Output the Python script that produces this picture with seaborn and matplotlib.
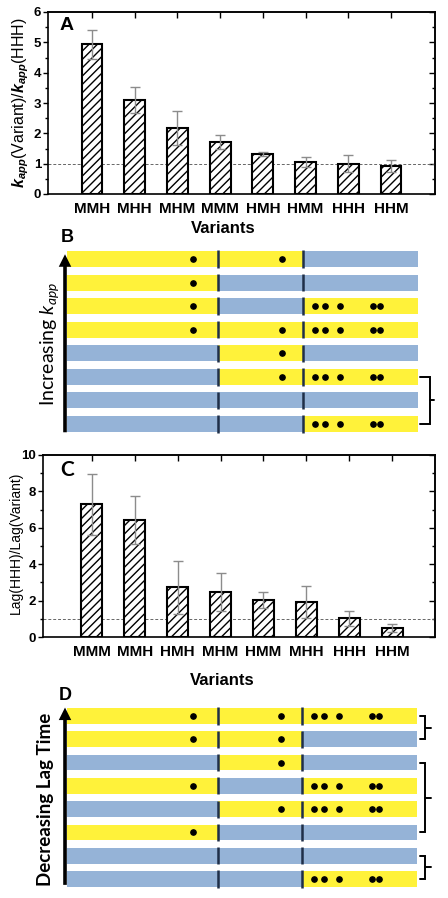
import numpy as np
import pandas as pd
import matplotlib
matplotlib.use("Agg")
import matplotlib.pyplot as plt
import seaborn as sns
from matplotlib.ticker import MultipleLocator

sns.set_theme(style="white")
plt.rcParams["font.family"] = ["Liberation Sans", "DejaVu Sans"]
plt.rcParams.update({
    "mathtext.fontset": "custom",
    "mathtext.rm": "Liberation Sans",
    "mathtext.it": "Lato:italic",
    "mathtext.bf": "Liberation Sans:bold",
    "mathtext.bfit": "Liberation Sans:bold:italic",
    "hatch.linewidth": 1.0,
})

# ---------------- data ----------------
kapp_variants = ["MMH", "MHH", "MHM", "MMM", "HMH", "HMM", "HHH", "HHM"]
kapp_ratio = [4.93, 3.10, 2.18, 1.73, 1.32, 1.05, 1.00, 0.93]
kapp_err = [0.48, 0.42, 0.55, 0.23, 0.08, 0.16, 0.28, 0.20]

lag_variants = ["MMM", "MMH", "HMH", "MHM", "HMM", "MHH", "HHH", "HHM"]
lag_ratio = [7.30, 6.42, 2.72, 2.48, 2.03, 1.90, 1.02, 0.50]
lag_err = [1.68, 1.30, 1.45, 1.04, 0.44, 0.88, 0.42, 0.22]

segment_edges = [0, 151, 236, 351]
segment_dots = [[126], [215], [248, 258, 273, 306, 313]]
kapp_groups = [(5, 7)]
lag_groups = [(0, 1), (2, 5), (6, 7)]

YEL = "#FFF23A"
BLU = "#95B3D7"
DIV = "#1F2F48"

W, H = 448, 898
fig = plt.figure(figsize=(W / 100, H / 100), dpi=100)


def px(l, t, r, b):
    return [l / W, 1 - b / H, (r - l) / W, (b - t) / H]


def bar_panel(ax, cats, vals, errs, ymax, major, minor, xlim, ylab, ylab_xy,
              xlab_xy, letter, letter_xy, letter_kw):
    df = pd.DataFrame({"Variant": cats, "ratio": vals})
    sns.barplot(data=df, x="Variant", y="ratio", order=cats, color="white",
                edgecolor="black", linewidth=1.5, width=0.49, hatch="////",
                errorbar=None, saturation=1, ax=ax)
    ax.errorbar(np.arange(len(cats)), vals, yerr=errs, fmt="none",
                ecolor="#8c8c8c", elinewidth=1.0, capsize=3.5, capthick=1.0,
                zorder=4)
    ax.axhline(1, color="#666666", lw=0.7, ls=(0, (3, 2)), zorder=0.5)
    ax.set_xlim(*xlim)
    ax.set_ylim(0, ymax)
    ax.yaxis.set_major_locator(MultipleLocator(major))
    ax.yaxis.set_minor_locator(MultipleLocator(minor))
    ax.tick_params(axis="y", which="both", direction="out", left=True,
                   right=False, color="black", width=1.0)
    ax.tick_params(axis="y", which="major", length=3.5, pad=1.5, labelsize=9.5)
    ax.tick_params(axis="y", which="minor", length=2)
    ax.tick_params(axis="x", bottom=False, length=0, pad=6, labelsize=11)
    for lbl in ax.get_xticklabels() + ax.get_yticklabels():
        lbl.set_fontweight("bold")
        lbl.set_color("black")
    for sp in ax.spines.values():
        sp.set_color("black")
        sp.set_linewidth(1.2)
    secy = ax.secondary_yaxis("right")
    secy.yaxis.set_major_locator(MultipleLocator(major))
    secy.yaxis.set_minor_locator(MultipleLocator(minor))
    secy.tick_params(which="both", direction="in", labelright=False,
                     color="black", width=1.0)
    secy.tick_params(which="major", length=4)
    secy.tick_params(which="minor", length=2.5)
    secy.spines["right"].set_linewidth(1.2)
    secx = ax.secondary_xaxis("top")
    secx.set_xticks(np.arange(len(cats)))
    secx.tick_params(direction="in", labeltop=False, length=4.5,
                     color="black", width=1.0)
    secx.spines["top"].set_linewidth(1.2)
    ax.set_ylabel(ylab, fontsize=ylab_xy[2], color="black")
    ax.yaxis.set_label_coords(ylab_xy[0], ylab_xy[1])
    ax.set_xlabel("Variants", fontsize=12, fontweight="bold", color="black")
    ax.xaxis.set_label_coords(*xlab_xy)
    ax.text(letter_xy[0], letter_xy[1], letter, transform=ax.transAxes,
            ha="center", va="center", color="black", **letter_kw)


def schematic(ax, variants, groups, label, label_xy, label_kw, arrow_y,
              brace_off):
    n = len(variants)
    for i, v in enumerate(variants):
        for s, state in enumerate(v):
            left = segment_edges[s]
            width = segment_edges[s + 1] - left
            ax.barh(i, width, left=left, height=0.68,
                    color=YEL if state == "M" else BLU, linewidth=0)
            if state == "M":
                ax.plot(segment_dots[s], [i] * len(segment_dots[s]), "o",
                        color="black", ms=3.8, zorder=3)
        ax.vlines(segment_edges[1:3], i - 0.37, i + 0.37, color=DIV, lw=1.8,
                  zorder=3)
    end = segment_edges[-1]
    h0, v0, n0 = brace_off
    for a, b in groups:
        ax.plot([end + h0, end + v0, end + v0, end + h0], [a, a, b, b],
                color="black", lw=1.4, clip_on=False, solid_joinstyle="miter")
        ax.plot([end + v0, end + n0], [(a + b) / 2] * 2, color="black",
                lw=1.4, clip_on=False)
    ax.annotate("", xy=(-2, arrow_y[0]), xytext=(-2, arrow_y[1]),
                xycoords="data", annotation_clip=False,
                arrowprops=dict(arrowstyle="simple,head_length=0.9,head_width=0.9,tail_width=0.26",
                                mutation_scale=10, color="black", lw=0,
                                shrinkA=0, shrinkB=0))
    ax.text(label_xy[0], label_xy[1], label, rotation=90, ha="center",
            va="center", color="black", **label_kw)
    ax.set_xlim(0, end)
    ax.set_ylim(n - 0.5, -0.5)
    ax.axis("off")


axA = fig.add_axes(px(48, 12, 435, 194))
axB = fig.add_axes(px(67, 247.2, 418, 435.8))
axC = fig.add_axes(px(43, 455, 435, 637))
axD = fig.add_axes(px(67, 704.3, 417, 890.7))

bar_panel(axA, kapp_variants, kapp_ratio, kapp_err, 6, 1, 0.5, (-1.03, 8.03),
          r"$\mathbfit{k}_{\mathbfit{app}}$(Variant)/$\mathbfit{k}_{\mathbfit{app}}$(HHH)",
          (-0.045, 0.5, 11.5), (0.452, -0.148), "A", (0.049, 0.926),
          dict(fontsize=14, fontweight="bold"))
bar_panel(axC, lag_variants, lag_ratio, lag_err, 10, 2, 1, (-1.14, 8.0),
          "Lag(HHH)/Lag(Variant)", (-0.052, 0.516, 10), (0.458, -0.198), "C",
          (0.061, 0.918), dict(fontsize=15, fontweight="bold", family="Lato"))

schematic(axB, kapp_variants, kapp_groups, r"Increasing $\mathit{k}_{\mathit{app}}$",
          (-17, 3.6), dict(fontsize=14, family="Lato"), (-0.2, 7.35), (2, 12, 16))
schematic(axD, lag_variants, lag_groups, "Decreasing Lag Time",
          (-22, 3.6), dict(fontsize=13.5, family="Lato", fontweight="bold"),
          (-0.36, 7.25), (3, 8, 14))

fig.text(67 / W, 1 - 238 / H, "B", ha="center", va="center", fontsize=13,
         fontweight="bold", color="black")
fig.text(65 / W, 1 - 695 / H, "D", ha="center", va="center", fontsize=13,
         fontweight="bold", color="black")

fig.savefig("out.png", dpi=100, facecolor="white")
